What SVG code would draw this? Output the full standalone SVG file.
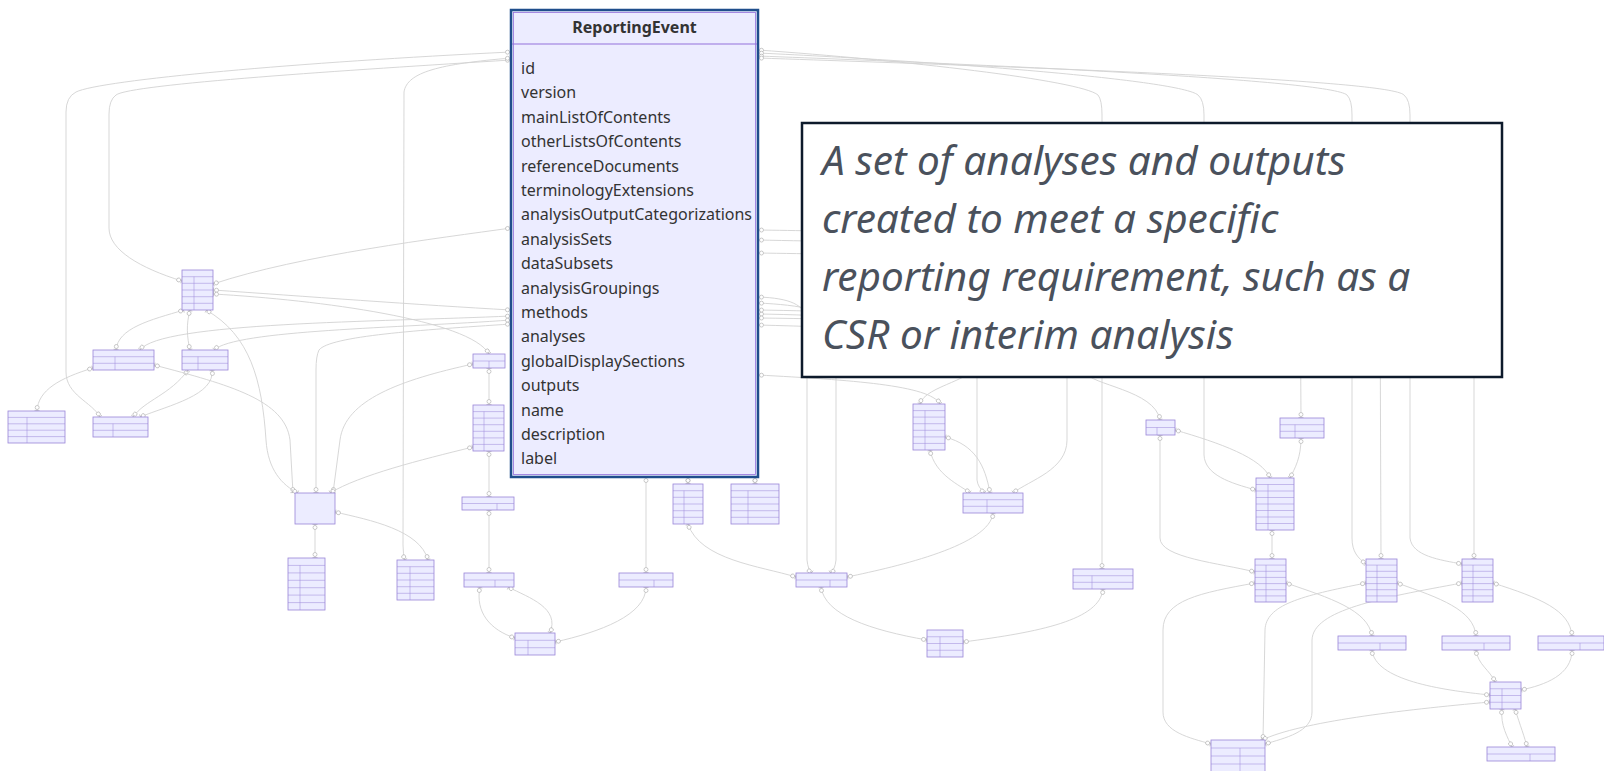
<svg xmlns="http://www.w3.org/2000/svg" width="1604" height="771" viewBox="0 0 1604 771">
<style>
.c path{fill:none;stroke:#d2d2d2;stroke-width:0.9;marker-start:url(#m);marker-end:url(#m)}
.n rect{fill:#ececff;stroke:#9a86d8;stroke-width:0.8}
.n path{fill:none;stroke:#9a86d8;stroke-width:0.5}
.h{font-family:"Noto Sans","DejaVu Sans",sans-serif;font-size:16px;font-weight:bold;fill:#333;text-anchor:middle}
.a{font-family:"Noto Sans","DejaVu Sans",sans-serif;font-size:16px;fill:#333}
.t{font-family:"Noto Sans","Open Sans",sans-serif;font-style:italic;font-size:40.5px;fill:#4a515c}
</style>
<defs>
<marker id="m" viewBox="-7 -4 8 8" refX="0" refY="0" markerWidth="8" markerHeight="8" markerUnits="userSpaceOnUse" orient="auto-start-reverse">
<circle cx="-3.5" cy="0" r="2" fill="#fff" stroke="#aaa" stroke-width="0.6"/>
<line x1="-0.5" y1="-2.5" x2="-0.5" y2="2.5" stroke="#aaa" stroke-width="0.6"/>
</marker>
</defs>
<rect width="1604" height="771" fill="#fff"/>
<g id="connectors" class="c">
<path d="M511,52 C300,62 100,80 76,92 Q66,97 66,112 L66,372 C66,395 92,402 100,417"/>
<path d="M511,60 C350,70 130,84 116,95 Q109,100 109,114 L109,228 C109,250 140,268 182,281"/>
<path d="M511,58 C440,64 407,72 404,92 L403,545 Q403,555 405,560"/>
<path d="M511,228 C440,238 300,255 213,284"/>
<path d="M511,310 C420,305 300,296 213,290"/>
<path d="M213,294 C320,300 470,320 489,354"/>
<path d="M511,316 C380,322 160,322 140,350"/>
<path d="M511,320 C400,328 235,330 214,350"/>
<path d="M511,324 C420,330 330,336 319,350 Q316,356 316,370 L316,493"/>
<path d="M184,310 C150,320 118,328 116,350"/>
<path d="M190,310 C186,325 187,337 190,350"/>
<path d="M188,370 C170,395 145,400 133,417"/>
<path d="M212,370 C215,395 170,405 140,417"/>
<path d="M93,368 C60,378 38,390 37,411"/>
<path d="M154,365 C230,385 285,400 290,440 L293,493"/>
<path d="M206,310 C250,335 262,380 266,440 C268,470 282,485 298,493"/>
<path d="M473,364 C400,380 345,400 340,440 L333,493"/>
<path d="M473,447 C420,460 360,475 330,493"/>
<path d="M315,524 L315,558"/>
<path d="M335,512 C370,520 420,530 428,560"/>
<path d="M489,368 L489,405"/>
<path d="M489,451 L489,497"/>
<path d="M489,510 L489,573"/>
<path d="M480,587 C475,612 490,630 515,638"/>
<path d="M550,633 C560,608 530,598 508,587"/>
<path d="M646,587 C646,615 600,632 555,642"/>
<path d="M646,477 L646,573"/>
<path d="M688,477 L688,484"/>
<path d="M755,477 L755,484"/>
<path d="M688,524 C700,560 760,566 796,577"/>
<path d="M993,513 C990,545 900,566 847,577"/>
<path d="M758,297 C790,298 805,305 807,320 L807,560 Q808,570 812,573"/>
<path d="M758,303 C800,305 834,310 836,330 L836,560 Q835,570 830,573"/>
<path d="M758,375 C850,380 930,385 940,404"/>
<path d="M758,314 C900,316 975,330 978,360 C980,380 925,385 920,404"/>
<path d="M758,310 C900,312 975,320 977,340 L977,480 Q978,488 985,493"/>
<path d="M758,318 C950,320 1065,330 1067,350 L1067,440 C1067,470 1030,480 1013,493"/>
<path d="M945,437 C975,445 985,465 990,493"/>
<path d="M930,450 C935,475 960,485 970,493"/>
<path d="M758,50 C900,60 1080,80 1098,95 Q1102,100 1102,115 L1102,569"/>
<path d="M758,53 C950,62 1180,80 1198,95 Q1204,100 1204,115 L1204,455 C1205,475 1230,483 1256,490"/>
<path d="M758,56 C1000,65 1330,80 1347,95 Q1352,100 1352,115 L1352,538 C1352,552 1358,558 1366,564"/>
<path d="M758,58 C1050,68 1390,80 1404,95 Q1410,100 1410,115 L1410,538 C1412,556 1440,560 1462,564"/>
<path d="M758,230 C900,232 1290,240 1300,260 L1301,418"/>
<path d="M758,253 C950,256 1375,262 1380,280 L1381,559"/>
<path d="M758,240 C1000,245 1470,250 1474,270 L1474,559"/>
<path d="M758,325 C950,330 1080,340 1085,360 L1085,372 C1090,385 1155,390 1160,420"/>
<path d="M1160,435 L1160,538 C1160,558 1220,563 1255,572"/>
<path d="M1175,430 C1220,443 1262,458 1270,478"/>
<path d="M1301,438 C1301,458 1295,468 1290,478"/>
<path d="M1272,530 L1272,559"/>
<path d="M1255,583 C1200,593 1163,600 1163,630 L1163,712 C1163,732 1190,738 1211,744"/>
<path d="M1286,583 C1330,598 1368,610 1372,636"/>
<path d="M1366,583 C1300,596 1266,605 1265,630 L1263,740"/>
<path d="M1462,583 C1380,598 1313,610 1312,640 L1312,712 C1312,732 1285,738 1265,744"/>
<path d="M1397,583 C1440,598 1474,610 1476,636"/>
<path d="M1493,583 C1540,598 1570,610 1572,636"/>
<path d="M1372,650 C1375,680 1440,690 1490,695"/>
<path d="M1476,650 C1478,665 1490,670 1495,682"/>
<path d="M1572,650 C1572,675 1545,685 1521,690"/>
<path d="M1490,702 C1400,710 1300,722 1262,740"/>
<path d="M1502,709 C1500,725 1508,738 1512,747"/>
<path d="M1515,709 C1520,725 1525,738 1527,747"/>
<path d="M1103,589 C1100,620 1040,632 963,642"/>
<path d="M821,587 C825,615 870,630 927,640"/>
</g>
<g id="n-A" class="n"><rect x="182" y="270" width="31" height="40"/><path d="M182,276.7h31M182,283.3h31M182,290h31M182,296.7h31M182,303.3h31M194,276.7V310"/></g>
<g id="n-B" class="n"><rect x="93" y="350" width="61" height="20"/><path d="M93,356.7h61M93,363.3h61M115,356.7V370"/></g>
<g id="n-C" class="n"><rect x="182" y="350" width="46" height="20"/><path d="M182,356.7h46M182,363.3h46M198,356.7V370"/></g>
<g id="n-D" class="n"><rect x="8" y="411" width="57" height="32"/><path d="M8,417.4h57M8,423.8h57M8,430.2h57M8,436.6h57M27,417.4V443"/></g>
<g id="n-E" class="n"><rect x="93" y="417" width="55" height="20"/><path d="M93,423.7h55M93,430.3h55M113,423.7V437"/></g>
<g id="n-F" class="n"><rect x="295" y="493" width="40" height="31"/></g>
<g id="n-G" class="n"><rect x="288" y="558" width="37" height="52"/><path d="M288,565.4h37M288,572.9h37M288,580.3h37M288,587.7h37M288,595.1h37M288,602.6h37M300,565.4V610"/></g>
<g id="n-H" class="n"><rect x="397" y="560" width="37" height="40"/><path d="M397,566.7h37M397,573.3h37M397,580h37M397,586.7h37M397,593.3h37M410,566.7V600"/></g>
<g id="n-I" class="n"><rect x="473" y="354" width="32" height="14"/><path d="M473,361h32M489,361V368"/></g>
<g id="n-J" class="n"><rect x="473" y="405" width="31" height="46"/><path d="M473,411.6h31M473,418.1h31M473,424.7h31M473,431.3h31M473,437.9h31M473,444.4h31M484,411.6V451"/></g>
<g id="n-K" class="n"><rect x="462" y="497" width="52" height="13"/><path d="M462,503.5h52M497,503.5V510"/></g>
<g id="n-L" class="n"><rect x="464" y="573" width="50" height="14"/><path d="M464,580h50M495,580V587"/></g>
<g id="n-M" class="n"><rect x="515" y="633" width="40" height="22"/><path d="M515,640.3h40M515,647.7h40M528,640.3V655"/></g>
<g id="n-N" class="n"><rect x="619" y="573" width="54" height="14"/><path d="M619,580h54M654,580V587"/></g>
<g id="n-O" class="n"><rect x="673" y="484" width="30" height="40"/><path d="M673,490.7h30M673,497.3h30M673,504h30M673,510.7h30M673,517.3h30M684,490.7V524"/></g>
<g id="n-P" class="n"><rect x="731" y="484" width="48" height="40"/><path d="M731,490.7h48M731,497.3h48M731,504h48M731,510.7h48M731,517.3h48M748,490.7V524"/></g>
<g id="n-Q" class="n"><rect x="796" y="573" width="51" height="14"/><path d="M796,580h51M830,580V587"/></g>
<g id="n-R" class="n"><rect x="913" y="404" width="32" height="46"/><path d="M913,410.6h32M913,417.1h32M913,423.7h32M913,430.3h32M913,436.9h32M913,443.4h32M925,410.6V450"/></g>
<g id="n-S" class="n"><rect x="963" y="493" width="60" height="20"/><path d="M963,499.7h60M963,506.3h60M987,499.7V513"/></g>
<g id="n-T" class="n"><rect x="927" y="630" width="36" height="27"/><path d="M927,636.75h36M927,643.5h36M927,650.25h36M940,636.75V657"/></g>
<g id="n-U" class="n"><rect x="1073" y="569" width="60" height="20"/><path d="M1073,575.7h60M1073,582.3h60M1092,575.7V589"/></g>
<g id="n-V" class="n"><rect x="1146" y="420" width="29" height="15"/><path d="M1146,427.5h29M1157,427.5V435"/></g>
<g id="n-W" class="n"><rect x="1280" y="418" width="44" height="20"/><path d="M1280,424.7h44M1280,431.3h44M1295,424.7V438"/></g>
<g id="n-X" class="n"><rect x="1256" y="478" width="38" height="52"/><path d="M1256,484.5h38M1256,491h38M1256,497.5h38M1256,504h38M1256,510.5h38M1256,517h38M1256,523.5h38M1268,484.5V530"/></g>
<g id="n-Y" class="n"><rect x="1255" y="559" width="31" height="43"/><path d="M1255,565.1h31M1255,571.3h31M1255,577.4h31M1255,583.6h31M1255,589.7h31M1255,595.9h31M1266,565.1V602"/></g>
<g id="n-Z" class="n"><rect x="1366" y="559" width="31" height="43"/><path d="M1366,565.1h31M1366,571.3h31M1366,577.4h31M1366,583.6h31M1366,589.7h31M1366,595.9h31M1377,565.1V602"/></g>
<g id="n-AA" class="n"><rect x="1462" y="559" width="31" height="43"/><path d="M1462,565.1h31M1462,571.3h31M1462,577.4h31M1462,583.6h31M1462,589.7h31M1462,595.9h31M1473,565.1V602"/></g>
<g id="n-AB" class="n"><rect x="1338" y="636" width="68" height="14"/><path d="M1338,643h68M1380,643V650"/></g>
<g id="n-AC" class="n"><rect x="1442" y="636" width="68" height="14"/><path d="M1442,643h68M1484,643V650"/></g>
<g id="n-AD" class="n"><rect x="1538" y="636" width="66" height="14"/><path d="M1538,643h66M1580,643V650"/></g>
<g id="n-AE" class="n"><rect x="1490" y="682" width="31" height="27"/><path d="M1490,688.75h31M1490,695.5h31M1490,702.25h31M1502,688.75V709"/></g>
<g id="n-AF" class="n"><rect x="1211" y="740" width="54" height="40"/><path d="M1211,748h54M1211,756h54M1211,764h54M1240,748V780"/></g>
<g id="n-AG" class="n"><rect x="1487" y="747" width="68" height="14"/><path d="M1487,754h68M1530,754V761"/></g>
<g id="reporting-event">
<rect x="511" y="10" width="247" height="467" fill="#ececff" stroke="#1f4e8c" stroke-width="2.5"/>
<rect x="513.5" y="12.5" width="242" height="462" fill="none" stroke="#9370db" stroke-width="0.8"/>
<line x1="512" y1="44" x2="757" y2="44" stroke="#9370db" stroke-width="1"/>
<text class="h" x="634.5" y="33">ReportingEvent</text>
<text class="a" x="521" y="74">id</text>
<text class="a" x="521" y="98.4">version</text>
<text class="a" x="521" y="122.8">mainListOfContents</text>
<text class="a" x="521" y="147.2">otherListsOfContents</text>
<text class="a" x="521" y="171.6">referenceDocuments</text>
<text class="a" x="521" y="196">terminologyExtensions</text>
<text class="a" x="521" y="220.4">analysisOutputCategorizations</text>
<text class="a" x="521" y="244.8">analysisSets</text>
<text class="a" x="521" y="269.2">dataSubsets</text>
<text class="a" x="521" y="293.6">analysisGroupings</text>
<text class="a" x="521" y="318">methods</text>
<text class="a" x="521" y="342.4">analyses</text>
<text class="a" x="521" y="366.8">globalDisplaySections</text>
<text class="a" x="521" y="391.2">outputs</text>
<text class="a" x="521" y="415.6">name</text>
<text class="a" x="521" y="440">description</text>
<text class="a" x="521" y="464.4">label</text>
</g>
<g id="callout">
<rect x="802" y="123" width="700" height="254" fill="#fff" stroke="#0d1a2b" stroke-width="2.5"/>
<text class="t" x="822" y="175">A set of analyses and outputs</text>
<text class="t" x="822" y="233">created to meet a specific</text>
<text class="t" x="822" y="291">reporting requirement, such as a</text>
<text class="t" x="822" y="349">CSR or interim analysis</text>
</g>
</svg>
